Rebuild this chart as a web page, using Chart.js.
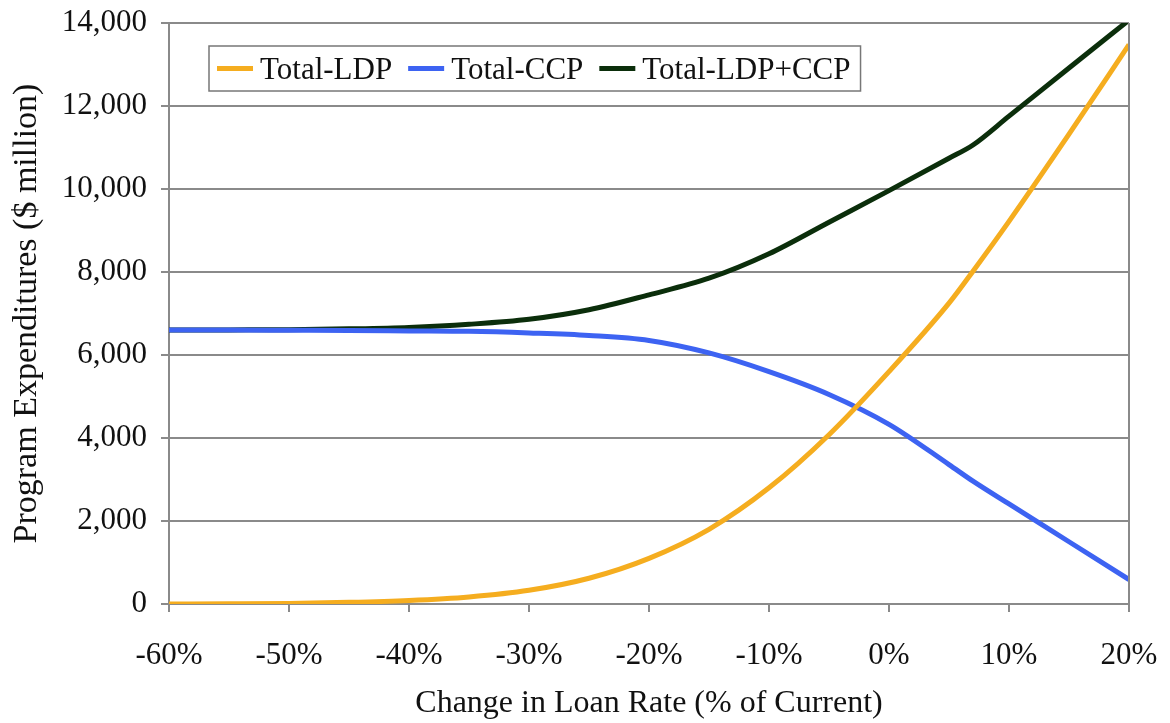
<!DOCTYPE html>
<html>
<head>
<meta charset="utf-8">
<script src="https://cdn.jsdelivr.net/npm/chart.js@4.4.1/dist/chart.umd.min.js"></script>
<style>
html,body{margin:0;padding:0;background:#fff;}
#wrap{width:1170px;height:723px;position:relative;}
</style>
</head>
<body>
<div id="wrap"><canvas id="c" width="1170" height="723"></canvas></div>
<script>
const loanRateChange = [-60, -55, -50, -45, -40, -35, -30, -25, -20, -15, -10, -5, 0, 5, 7, 10, 15, 20];
const totalLDP      = [0, 5, 15, 40, 85, 170, 330, 620, 1100, 1800, 2800, 4080, 5600, 7250, 8020, 9220, 11320, 13480];
const totalCCP      = [6600, 6600, 6595, 6590, 6580, 6570, 6530, 6470, 6350, 6050, 5600, 5050, 4330, 3360, 2960, 2410, 1500, 590];
const totalLDPCCP   = [6600, 6605, 6610, 6630, 6665, 6740, 6860, 7090, 7450, 7850, 8440, 9200, 9960, 10740, 11060, 11755, 12915, 14070];
const seriesNames   = ['Total-LDP', 'Total-CCP', 'Total-LDP+CCP'];
const seriesColors  = ['#F5AD1F', '#3D63F2', '#0B2E0B'];
const xTickValues   = [-60, -50, -40, -30, -20, -10, 0, 10, 20];
const yTickValues   = [0, 2000, 4000, 6000, 8000, 10000, 12000, 14000];

const FONT = "'Liberation Serif', 'Times New Roman', serif";
const GRID = '#8a8a8a';

function pts(vals){ return loanRateChange.map((x,i)=>({x:x, y:vals[i]})); }

const series = [totalLDP, totalCCP, totalLDPCCP];
const datasets = series.map((vals,i)=>({
  label: seriesNames[i],
  data: pts(vals),
  borderColor: seriesColors[i],
  backgroundColor: seriesColors[i],
  borderWidth: 5,
  pointRadius: 0,
  cubicInterpolationMode: 'monotone',
  fill: false
}));

const framePlugin = {
  id: 'frame',
  afterDraw(chart){
    const ctx = chart.ctx, a = chart.chartArea;
    ctx.save();
    ctx.strokeStyle = GRID; ctx.lineWidth = 2;
    ctx.beginPath(); ctx.moveTo(a.right, a.top); ctx.lineTo(a.right, a.bottom); ctx.stroke();
    ctx.restore();
    // legend box inside the plot
    ctx.save();
    ctx.font = "31px " + FONT;
    const sample = 36, gapS = 7, gapI = 16, padL = 8, padR = 10;
    let w = padL;
    chart.data.datasets.forEach((d,i)=>{
      w += sample + gapS + ctx.measureText(d.label).width + (i < chart.data.datasets.length-1 ? gapI : 0);
    });
    w += padR;
    const bx = a.left + 40, by = a.top + 23, bh = 45;
    ctx.fillStyle = '#fff';
    ctx.fillRect(bx, by, w, bh);
    ctx.strokeStyle = '#777'; ctx.lineWidth = 1.5;
    ctx.strokeRect(bx, by, w, bh);
    let x = bx + padL;
    const cy = by + bh/2;
    chart.data.datasets.forEach((d,i)=>{
      ctx.strokeStyle = d.borderColor; ctx.lineWidth = 5;
      ctx.beginPath(); ctx.moveTo(x, cy); ctx.lineTo(x+sample, cy); ctx.stroke();
      x += sample + gapS;
      ctx.fillStyle = '#111'; ctx.textBaseline = 'middle'; ctx.textAlign = 'left';
      ctx.fillText(d.label, x, cy + 2);
      x += ctx.measureText(d.label).width + gapI;
    });
    ctx.restore();
  }
};

new Chart(document.getElementById('c'), {
  type: 'line',
  data: { datasets },
  options: {
    responsive: false,
    animation: false,
    events: [],
    layout: { padding: { top: 23, right: 41, left: 0, bottom: 0 } },
    plugins: { legend: { display: false }, tooltip: { enabled: false } },
    scales: {
      x: {
        type: 'linear',
        min: -60, max: 20,
        afterFit(s){ s.height = 119; s.paddingLeft = 0; s.paddingRight = 0; },
        afterBuildTicks(s){ s.ticks = xTickValues.map(v=>({value:v})); },
        ticks: {
          color: '#111', font: { family: FONT, size: 31 }, padding: 25, maxRotation: 0,
          callback: v => v + '%'
        },
        grid: { drawOnChartArea: false, color: GRID, lineWidth: 2, tickLength: 8 },
        border: { color: GRID, width: 2 },
        title: {
          display: true, text: 'Change in Loan Rate (% of Current)', color: '#111',
          font: { family: FONT, size: 32 }, padding: { top: 0, bottom: 0 }
        }
      },
      y: {
        min: 0, max: 14000,
        afterFit(s){ s.width = 169; s.paddingTop = 0; s.paddingBottom = 0; },
        afterBuildTicks(s){ s.ticks = yTickValues.map(v=>({value:v})); },
        ticks: {
          color: '#111', font: { family: FONT, size: 31 }, padding: 14,
          callback: v => v.toLocaleString('en-US')
        },
        grid: { color: GRID, lineWidth: 2, tickLength: 8 },
        border: { color: GRID, width: 2 },
        title: {
          display: true, text: 'Program Expenditures ($ million)', color: '#111',
          font: { family: FONT, size: 34 }, padding: { top: 7, bottom: 0 }
        }
      }
    }
  },
  plugins: [framePlugin]
});
</script>
</body>
</html>
